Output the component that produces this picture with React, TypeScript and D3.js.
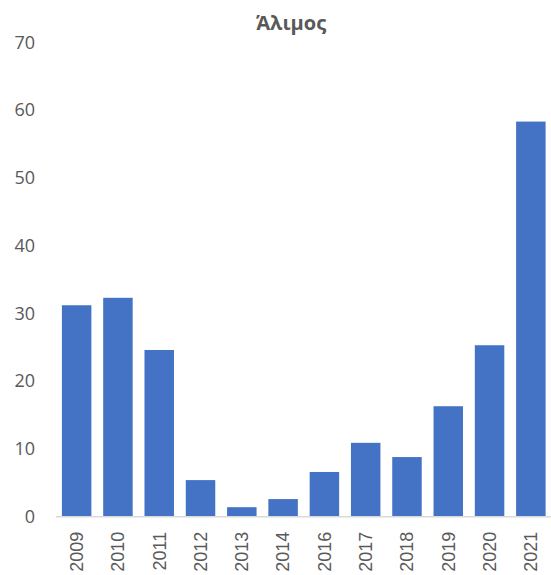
import * as d3 from "d3";

const years = ["2009", "2010", "2011", "2012", "2013", "2014", "2016", "2017", "2018", "2019", "2020", "2021"];
const values = [31.2, 32.3, 24.6, 5.4, 1.4, 2.6, 6.6, 10.9, 8.8, 16.3, 25.3, 58.3];
const yTicks = [0, 10, 20, 30, 40, 50, 60, 70];
const title = "Άλιμος";

const width = 551;
const height = 575;
const margin = { top: 42.3, right: 0, bottom: 58.3, left: 56 };

const colors = {
  bar: "#4472C4",
  text: "#595959",
  axis: "#D9D9D9",
};

export default function App() {
  const x = d3
    .scaleBand<string>()
    .domain(years)
    .range([margin.left, width + 0.5])
    .paddingInner(0.286)
    .paddingOuter(0.143);

  const y = d3
    .scaleLinear()
    .domain([0, 70])
    .range([height - margin.bottom, margin.top]);

  const baseline = y(0);

  return (
    <svg
      width={width}
      height={height}
      style={{ position: "absolute", left: 0, top: 0, background: "#fff" }}
    >
      {/* title */}
      <text
        x={291}
        y={30}
        textAnchor="middle"
        fontFamily="'Open Sans', sans-serif"
        fontWeight={700}
        fontSize={20}
        fill={colors.text}
      >
        {title}
      </text>

      {/* y labels */}
      {yTicks.map((t) => (
        <text
          key={t}
          x={35}
          y={y(t)}
          dy="0.35em"
          textAnchor="end"
          fontFamily="'Open Sans', sans-serif"
          fontSize={18}
          fill={colors.text}
        >
          {t}
        </text>
      ))}

      {/* bars */}
      {years.map((yr, i) => (
        <rect
          key={yr}
          x={x(yr)}
          y={y(values[i])}
          width={x.bandwidth()}
          height={baseline - y(values[i])}
          fill={colors.bar}
        />
      ))}

      {/* x axis line */}
      <line
        x1={margin.left}
        x2={width}
        y1={baseline}
        y2={baseline}
        stroke={colors.axis}
        strokeWidth={1.5}
      />

      {/* x labels */}
      {years.map((yr) => {
        const cx = (x(yr) ?? 0) + x.bandwidth() / 2;
        return (
          <text
            key={yr}
            transform={`translate(${cx},${baseline + 15}) rotate(-90)`}
            dy="0.35em"
            textAnchor="end"
            fontFamily="'Liberation Sans', Arial, sans-serif"
            fontSize={18}
            fill={colors.text}
          >
            {yr}
          </text>
        );
      })}
    </svg>
  );
}
